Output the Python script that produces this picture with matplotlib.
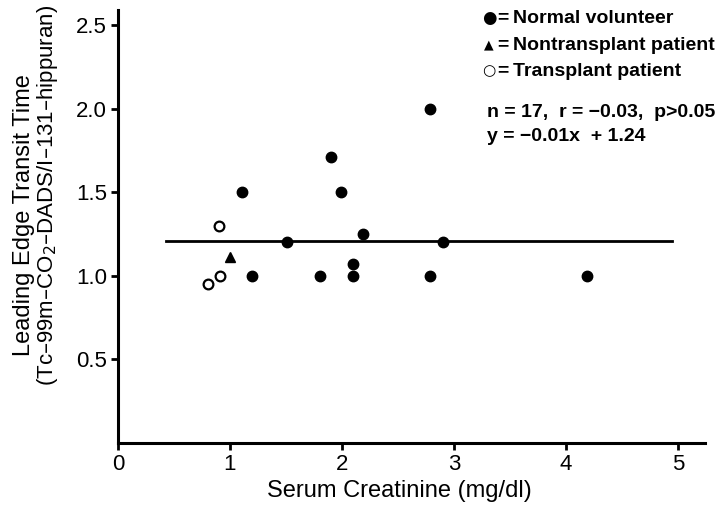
import matplotlib.pyplot as plt

plt.rcParams['font.family'] = ['Liberation Sans', 'DejaVu Sans']

# Normal volunteers (filled circles)
normal_x = [1.11, 1.20, 1.51, 1.80, 1.90, 1.99, 2.10, 2.10, 2.19, 2.79, 2.79, 2.90, 4.19]
normal_y = [1.50, 1.00, 1.205, 1.00, 1.71, 1.50, 1.07, 1.00, 1.25, 1.00, 2.00, 1.205, 1.00]
# Nontransplant patient (triangle)
nontx_x = [1.00]
nontx_y = [1.11]
# Transplant patients (open circles)
tx_x = [0.80, 0.91, 0.90]
tx_y = [0.95, 1.00, 1.30]
# regression line as drawn
line_x = [0.43, 4.95]
line_y = [1.21, 1.21]

xticks = [0, 1, 2, 3, 4, 5]
yticks = [0.5, 1.0, 1.5, 2.0, 2.5]

legend_syms = ['\u25cf', '\u25b2', '\u25cb']
legend_labels = ['Normal volunteer', 'Nontransplant patient', 'Transplant patient']
stats_lines = ['n = 17,  r = \u22120.03,  p>0.05', 'y = \u22120.01x  + 1.24']

fig = plt.figure(figsize=(7.19, 5.14), dpi=100)
ax = fig.add_axes([0.164, 0.138, 0.8165, 0.8425])

ax.plot(line_x, line_y, color='black', lw=2.0)
ax.plot(normal_x, normal_y, 'o', color='black', ms=7.5, clip_on=False)
ax.plot(nontx_x, nontx_y, '^', color='black', ms=6.5)
ax.plot(tx_x, tx_y, 'o', mfc='white', mec='black', mew=1.6, ms=7)

ax.set_xlim(0, 5.24)
ax.set_ylim(0, 2.59)
ax.set_xticks(xticks)
ax.set_xticklabels([str(t) for t in xticks])
ax.set_yticks(yticks)
ax.set_yticklabels(['%.1f' % t for t in yticks])

for s in ['top', 'right']:
    ax.spines[s].set_visible(False)
for s in ['left', 'bottom']:
    ax.spines[s].set_linewidth(2.2)

ax.tick_params(axis='both', direction='out', width=2, length=5, labelsize=16, pad=3)

ax.set_xlabel('Serum Creatinine (mg/dl)', fontsize=17)
ax.xaxis.set_label_coords(0.48, -0.085)

# two-line y label
fig.text(0.033, 0.582, 'Leading Edge Transit Time', rotation=90,
         fontsize=17, ha='center', va='center')
fig.text(0.066, 0.6206, '(Tc\u201399m\u2013CO$_2$\u2013DADS/I\u2013131\u2013hippuran)',
         rotation=90, fontsize=16, ha='center', va='center')

sym_sizes = [12, 9, 11]
rows_y = [0.9815, 0.919, 0.859]
for sym, lab, sz, yy in zip(legend_syms, legend_labels, sym_sizes, rows_y):
    ax.text(0.632, yy, sym, transform=ax.transAxes, fontsize=sz, ha='center', va='center',
            family='DejaVu Sans')
    ax.text(0.647, yy, '=', transform=ax.transAxes, fontsize=14, fontweight='bold',
            ha='left', va='center')
    ax.text(0.673, yy, lab, transform=ax.transAxes, fontsize=14, fontweight='bold',
            ha='left', va='center')
for line, yy in zip(stats_lines, [0.764, 0.707]):
    ax.text(0.629, yy, line, transform=ax.transAxes, fontsize=14, fontweight='bold',
            ha='left', va='center')

fig.savefig('out.png', dpi=100)
